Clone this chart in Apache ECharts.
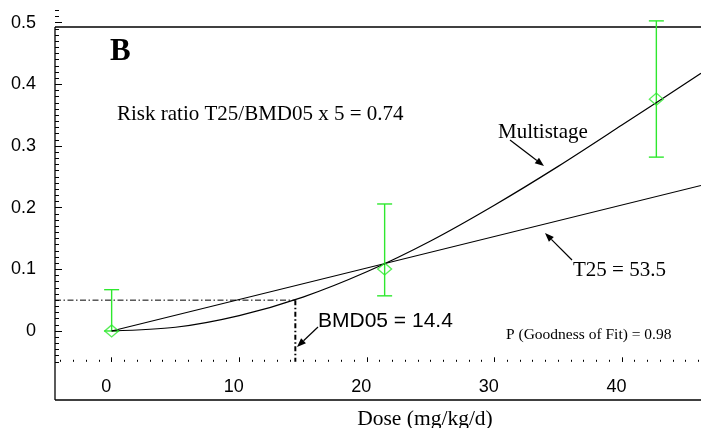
<!DOCTYPE html>
<html>
<head>
<meta charset="utf-8">
<script src="https://cdn.jsdelivr.net/npm/echarts@6/dist/echarts.min.js"></script>
<style>html,body{margin:0;padding:0;background:#fff}#c{width:701px;height:428px}</style>
</head>
<body>
<div id="c"></div>
<script>
// ---- data ----
const doses = [0, 21.4, 42.7];
const means = [0, 0.1005, 0.376];
const lower = [0, 0.057, 0.282];
const upper = [0.067, 0.206, 0.503];
const curveDose = [0, 5, 10, 15, 20, 25, 30, 35, 40, 46.2];
const multistage = [0, 0.006, 0.025, 0.055, 0.096, 0.146, 0.204, 0.267, 0.334, 0.418];
const linearDose = [0, 46.2];
const linearRisk = [0, 0.236];
const bmd05 = 14.4;
const bmr = 0.05;
const xTickLabels = [0, 10, 20, 30, 40];
const yTickLabels = [0, 0.1, 0.2, 0.3, 0.4, 0.5];

const xMin = -4.44, xMax = 46.2, yMin = -0.05, yMax = 0.52;
const green = '#2ee82e';
const serif = '"Liberation Serif", "Times New Roman", serif';
const sans = '"Liberation Sans", Arial, sans-serif';

const xMinor = []; for (let i = -4; i <= 46; i++) xMinor.push(i);
const yMinor = []; for (let i = -5; i <= 52; i++) yMinor.push(+(i / 100).toFixed(2));

function arrow(x1, y1, x2, y2) {
  const dx = x2 - x1, dy = y2 - y1, L = Math.hypot(dx, dy);
  const ux = dx / L, uy = dy / L, hl = 9, hw = 3.5;
  const bx = x2 - ux * hl, by = y2 - uy * hl;
  return [
    { type: 'line', shape: { x1, y1, x2: bx, y2: by }, style: { stroke: '#000', lineWidth: 1.2 } },
    { type: 'polygon', shape: { points: [[x2, y2], [bx - uy * hw, by + ux * hw], [bx + uy * hw, by - ux * hw]] }, style: { fill: '#000' } }
  ];
}
function txt(text, x, y, font, align) {
  return { type: 'text', style: { text, x, y, font, fill: '#000', textAlign: align || 'left', textVerticalAlign: 'middle' } };
}

const noLine = { show: false, onZero: false };
const chart = echarts.init(document.getElementById('c'));
chart.setOption({
  animation: false,
  grid: { left: 55, right: 0, top: 10.4, bottom: 66.2, containLabel: false },
  xAxis: [
    { type: 'value', min: xMin, max: xMax, position: 'bottom',
      axisLine: noLine, splitLine: { show: false },
      axisTick: { show: true, inside: true, length: 2, customValues: xMinor, lineStyle: { color: '#000', width: 1 } },
      axisLabel: { customValues: xTickLabels, margin: 16, padding: [0, 11, 0, 0], color: '#000', fontFamily: sans, fontSize: 18 } },
    { type: 'value', min: xMin, max: xMax, position: 'bottom', gridIndex: 0,
      axisLine: noLine, splitLine: { show: false },
      axisTick: { show: true, inside: true, length: 4.5, customValues: xTickLabels, lineStyle: { color: '#000', width: 1 } },
      axisLabel: { show: false } }
  ],
  yAxis: [
    { type: 'value', min: yMin, max: yMax, position: 'left',
      axisLine: noLine, splitLine: { show: false },
      axisTick: { show: true, inside: true, length: 4, customValues: yMinor, lineStyle: { color: '#000', width: 1 } },
      axisLabel: { customValues: yTickLabels, margin: 19, color: '#000', fontFamily: sans, fontSize: 18,
        formatter: v => String(+v.toFixed(2)) } },
    { type: 'value', min: yMin, max: yMax, position: 'left',
      axisLine: noLine, splitLine: { show: false },
      axisTick: { show: true, inside: true, length: 7, customValues: yTickLabels, lineStyle: { color: '#000', width: 1 } },
      axisLabel: { show: false } }
  ],
  series: [
    { type: 'line', name: 'BMR', data: [[xMin, bmr], [bmd05, bmr]], symbol: 'none',
      lineStyle: { color: '#000', width: 1, type: [6, 2.5, 1.5, 2.5] }, z: 2 },
    { type: 'line', name: 'BMD', data: [[bmd05, bmr], [bmd05, yMin]], symbol: 'none',
      lineStyle: { color: '#000', width: 2, type: [5, 2.5, 1.5, 2.5] }, z: 2 },
    { type: 'custom', name: 'err', data: doses.map((d, i) => [d, lower[i], upper[i]]), z: 3,
      renderItem: function (params, api) {
        const x = api.value(0);
        const p1 = api.coord([x, api.value(1)]);
        const p2 = api.coord([x, api.value(2)]);
        const w = 7.5;
        const st = { stroke: green, lineWidth: 1.4 };
        return { type: 'group', children: [
          { type: 'line', shape: { x1: p1[0], y1: p1[1], x2: p2[0], y2: p2[1] }, style: st },
          { type: 'line', shape: { x1: p1[0] - w, y1: p1[1], x2: p1[0] + w, y2: p1[1] }, style: st },
          { type: 'line', shape: { x1: p2[0] - w, y1: p2[1], x2: p2[0] + w, y2: p2[1] }, style: st }
        ] };
      } },
    { type: 'line', name: 'Multistage', data: curveDose.map((d, i) => [d, multistage[i]]), smooth: 0.3,
      symbol: 'none', lineStyle: { color: '#000', width: 1.2 }, z: 4 },
    { type: 'line', name: 'Linear', data: linearDose.map((d, i) => [d, linearRisk[i]]),
      symbol: 'none', lineStyle: { color: '#000', width: 1.2 }, z: 4 },
    { type: 'scatter', name: 'Observed', data: doses.map((d, i) => [d, means[i]]), symbol: 'diamond',
      symbolSize: [14, 12], itemStyle: { color: 'rgba(0,0,0,0)', borderColor: green, borderWidth: 1.3 }, z: 5 }
  ],
  graphic: [
    { type: 'line', shape: { x1: 55, y1: 27, x2: 55, y2: 400 }, style: { stroke: '#000', lineWidth: 1.3 } },
    { type: 'line', shape: { x1: 55, y1: 27, x2: 701, y2: 27 }, style: { stroke: '#000', lineWidth: 1.3 } },
    { type: 'line', shape: { x1: 55, y1: 400, x2: 701, y2: 400 }, style: { stroke: '#000', lineWidth: 1.3 } },
    txt('B', 110, 52, 'bold 31px ' + serif),
    txt('Risk ratio T25/BMD05 x 5 = 0.74', 117, 114, '21px ' + serif),
    txt('Multistage', 498, 132, '21px ' + serif),
    txt('T25 = 53.5', 573, 270, '21px ' + serif),
    txt('BMD05 = 14.4', 318, 321, '21px ' + sans),
    txt('P (Goodness of Fit) = 0.98', 506, 335, '15.5px ' + serif),
    txt('Dose (mg/kg/d)', 425, 419, '21.5px ' + serif, 'center'),
    ...arrow(510, 140, 544, 166),
    ...arrow(572, 260, 545, 233),
    ...arrow(318, 327, 297, 347)
  ]
});
</script>
</body>
</html>
